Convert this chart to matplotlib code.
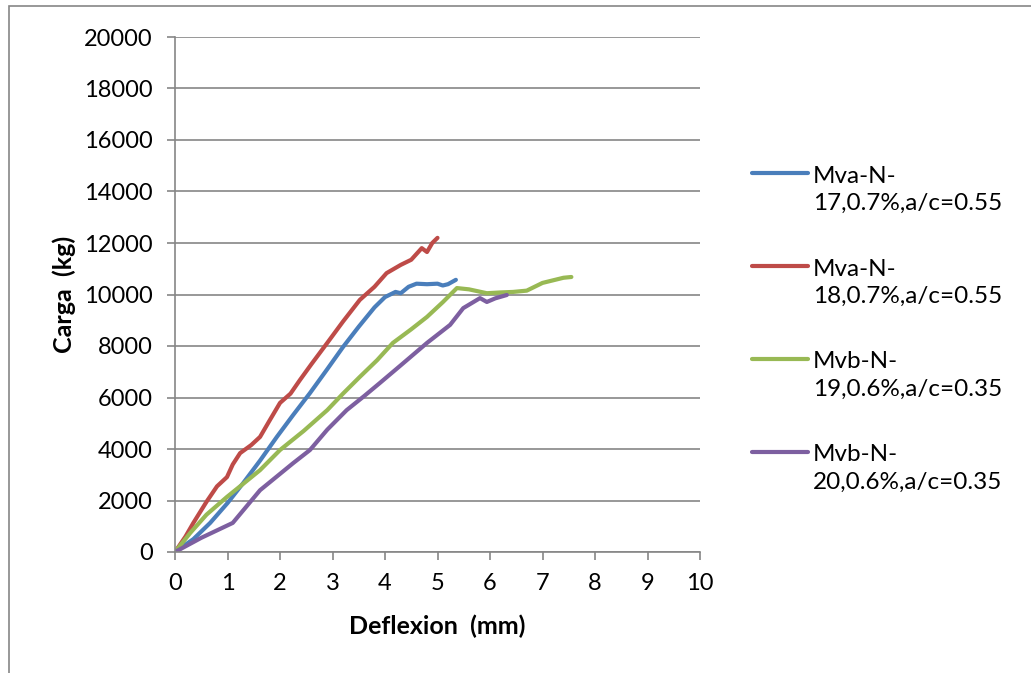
import matplotlib
matplotlib.use("Agg")
import matplotlib.pyplot as plt
from matplotlib.patches import Rectangle
from matplotlib.legend_handler import HandlerLine2D

plt.rcParams["font.family"] = ["Lato", "DejaVu Sans"]

# Mva-N-17
defl_17 = [0, 0.35, 0.67, 1.0, 1.3, 1.62, 1.94, 2.25, 2.57, 2.9, 3.2, 3.5, 3.8,
           4.0, 4.1, 4.2, 4.3, 4.45, 4.6, 4.8, 5.0, 5.1, 5.2, 5.35]
carga_17 = [0, 500, 1130, 1900, 2680, 3550, 4470, 5320, 6170, 7100, 7960, 8750, 9500,
            9900, 10000, 10100, 10050, 10300, 10420, 10400, 10420, 10350, 10400, 10570]

# Mva-N-18
defl_18 = [0, 0.2, 0.35, 0.6, 0.8, 0.99, 1.1, 1.24, 1.45, 1.62, 1.8, 2.0, 2.2, 2.38,
           2.6, 2.9, 3.2, 3.52, 3.8, 4.03, 4.3, 4.5, 4.7, 4.8, 4.9, 5.0]
carga_18 = [0, 600, 1130, 1950, 2550, 2910, 3400, 3840, 4150, 4470, 5100, 5790, 6150, 6680,
            7300, 8120, 8950, 9790, 10300, 10830, 11150, 11350, 11800, 11650, 12000, 12200]

# Mvb-N-19
defl_19 = [0, 0.29, 0.6, 0.99, 1.3, 1.62, 2.0, 2.45, 2.9, 3.2, 3.52, 3.85, 4.15, 4.5,
           4.8, 5.1, 5.37, 5.6, 5.94, 6.2, 6.44, 6.7, 7.0, 7.2, 7.4, 7.55]
carga_19 = [0, 740, 1450, 2140, 2650, 3180, 3960, 4700, 5510, 6150, 6800, 7450, 8120, 8650,
            9130, 9700, 10250, 10200, 10050, 10080, 10100, 10150, 10450, 10550, 10650, 10680]

# Mvb-N-20
defl_20 = [0, 0.5, 1.1, 1.62, 2.25, 2.57, 2.9, 3.27, 3.6, 3.9, 4.3, 4.8, 5.24, 5.49,
           5.81, 5.94, 6.1, 6.32]
carga_20 = [0, 550, 1130, 2400, 3450, 3960, 4750, 5510, 6050, 6560, 7250, 8120, 8820, 9470,
            9860, 9710, 9850, 9980]

series = [
    ("Mva-N-\n17,0.7%,a/c=0.55", defl_17, carga_17, "#4A7EBB"),
    ("Mva-N-\n18,0.7%,a/c=0.55", defl_18, carga_18, "#BE4B48"),
    ("Mvb-N-\n19,0.6%,a/c=0.35", defl_19, carga_19, "#98B954"),
    ("Mvb-N-\n20,0.6%,a/c=0.35", defl_20, carga_20, "#7D5FA0"),
]


class FirstLineHandler(HandlerLine2D):
    # Excel puts the legend key next to the first line of a wrapped label
    def create_artists(self, legend, orig_handle, xdescent, ydescent,
                       width, height, fontsize, trans):
        arts = super().create_artists(legend, orig_handle, xdescent, ydescent,
                                      width, height, fontsize, trans)
        for a in arts:
            a.set_ydata([y + 0.68 * fontsize for y in a.get_ydata()])
        return arts


fig = plt.figure(figsize=(10.31, 6.73), dpi=100)
ax = fig.add_axes([175 / 1031, 1 - 552 / 673, 525 / 1031, 515 / 673])

lines = []
for label, x, y, col in series:
    ln, = ax.plot(x, y, color=col, lw=3, label=label, solid_capstyle="round")
    lines.append(ln)

ax.set_xlim(0, 10)
ax.set_ylim(0, 20000)
ax.set_xticks(range(0, 11))
ax.set_yticks(range(0, 20001, 2000))
ax.yaxis.grid(True, color="#868686", lw=1.2)
ax.set_axisbelow(True)
for s in ["top", "right"]:
    ax.spines[s].set_visible(False)
for s in ["left", "bottom"]:
    ax.spines[s].set_color("#868686")
    ax.spines[s].set_linewidth(1.2)
ax.tick_params(axis="both", colors="#868686", labelcolor="black", labelsize=17,
               length=6, width=1.2, direction="out")
ax.tick_params(axis="y", pad=10)
ax.tick_params(axis="x", pad=9)

ax.set_xlabel("Deflexion  (mm)", fontsize=18, fontweight="bold", labelpad=15)
ax.set_ylabel("Carga  (kg)", fontsize=18, fontweight="bold", labelpad=6)

leg = ax.legend(loc="center left", bbox_to_anchor=(1.058, 0.433), frameon=False,
                fontsize=17.5, handlelength=2.3, handletextpad=0.2, labelspacing=1.85,
                handler_map={ln: FirstLineHandler() for ln in lines})
for t in leg.get_texts():
    t.set_linespacing(1.35)

fig.patches.append(Rectangle((9 / 1031, -0.1), 1.2, 1.1 - 6 / 673, transform=fig.transFigure,
                             fill=False, edgecolor="#868686", lw=1.2))

fig.savefig("out.png", dpi=100)
